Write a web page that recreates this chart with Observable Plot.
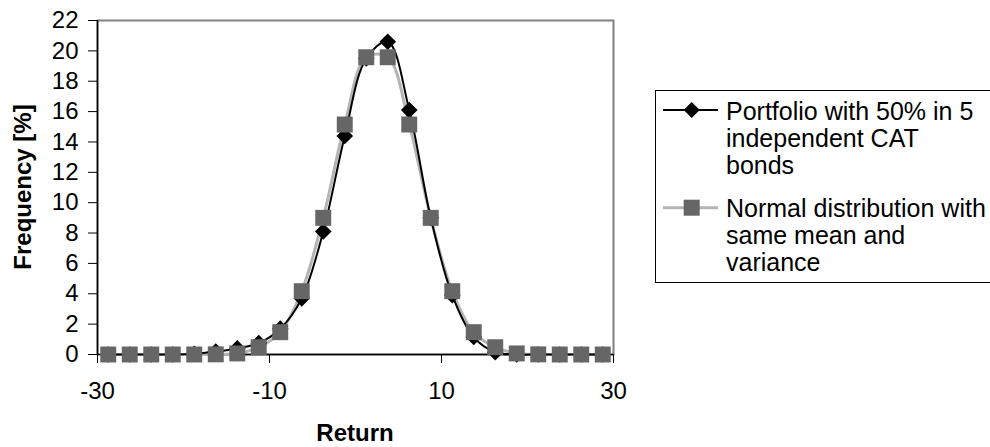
<!DOCTYPE html>
<html>
<head>
<meta charset="utf-8">
<script src="https://cdn.jsdelivr.net/npm/d3@7"></script>
<script src="https://cdn.jsdelivr.net/npm/@observablehq/plot@0.6"></script>
<style>
  html, body { margin: 0; padding: 0; background: #fff; }
  #wrap { position: relative; width: 990px; height: 447px; overflow: hidden; font-family: "Liberation Sans", Arial, sans-serif; color: #000; }
  .lbl { position: absolute; font-weight: bold; font-size: 24px; line-height: 24px; white-space: nowrap; text-align: center; }
  .legtext { position: absolute; left: 726px; font-size: 25px; line-height: 27px; white-space: nowrap; }
</style>
</head>
<body>
<div id="wrap"></div>
<script>
// ---- data ----
const returns = [-28.75, -26.25, -23.75, -21.25, -18.75, -16.25, -13.75, -11.25, -8.75, -6.25, -3.75, -1.25,
                 1.25, 3.75, 6.25, 8.75, 11.25, 13.75, 16.25, 18.75, 21.25, 23.75, 26.25, 28.75];
const portfolio = [0, 0, 0, 0, 0.05, 0.2, 0.4, 0.75, 1.7, 3.7, 8.1, 14.4,
                   19.5, 20.6, 16.1, 9.0, 3.9, 1.15, 0.15, 0, 0, 0, 0, 0];
const normal = [0, 0, 0, 0, 0, 0.01, 0.07, 0.48, 1.47, 4.17, 9.0, 15.15,
                19.58, 19.58, 15.15, 9.0, 4.17, 1.47, 0.48, 0.07, 0.01, 0, 0, 0];
const xTicks = [-30, -10, 10, 30];
const yTicks = [0, 2, 4, 6, 8, 10, 12, 14, 16, 18, 20, 22];
const xTitle = "Return";
const yTitle = "Frequency [%]";
const legendPortfolio = ["Portfolio with 50% in 5", "independent CAT", "bonds"];
const legendNormal = ["Normal distribution with", "same mean and", "variance"];

const rows = returns.map((x, i) => ({x, portfolio: portfolio[i], normal: normal[i]}));
const diamondSym = d3.symbolDiamond2 || d3.symbolDiamond;

const chart = Plot.plot({
  width: 990,
  height: 447,
  marginLeft: 97,
  marginRight: 377,
  marginTop: 20,
  marginBottom: 93,
  style: {fontFamily: '"Liberation Sans", Arial, sans-serif', fontSize: "24px", background: "#fff", color: "#000", overflow: "visible"},
  x: {domain: [-30, 30]},
  y: {domain: [0, 22]},
  marks: [
    Plot.frame({stroke: "#808080", strokeWidth: 2}),
    Plot.ruleX([-30], {stroke: "#000", strokeWidth: 1.5}),
    Plot.ruleY([0], {stroke: "#000", strokeWidth: 1.5}),
    Plot.axisX({ticks: xTicks, tickSize: 9, tickPadding: 18, label: null, fontSize: 24, tickFormat: d => d, stroke: "#000"}),
    Plot.axisY({ticks: yTicks, tickSize: 9, tickPadding: 10, label: null, fontSize: 24, tickFormat: d => d, stroke: "#000"}),
    Plot.line(rows, {x: "x", y: "normal", stroke: "#b4b4b4", strokeWidth: 3, curve: "catmull-rom"}),
    Plot.line(rows, {x: "x", y: "portfolio", stroke: "#000", strokeWidth: 2, curve: "catmull-rom"}),
    Plot.dot(rows, {x: "x", y: "portfolio", symbol: diamondSym, r: 7.5, fill: "#000", stroke: "none"}),
    Plot.dot(rows, {x: "x", y: "normal", symbol: "square", r: 9, fill: "#666", stroke: "none"})
  ]
});

const wrap = document.getElementById("wrap");
chart.style.position = "absolute";
chart.style.left = "0px";
chart.style.top = "0px";
wrap.appendChild(chart);

// axis titles
const xl = document.createElement("div");
xl.className = "lbl";
xl.textContent = xTitle;
xl.style.left = (355 - 100) + "px";
xl.style.width = "200px";
xl.style.top = "421px";
wrap.appendChild(xl);

const yl = document.createElement("div");
yl.className = "lbl";
yl.textContent = yTitle;
yl.style.width = "240px";
yl.style.left = (23.4 - 120) + "px";
yl.style.top = (186.5 - 12) + "px";
yl.style.transform = "rotate(-90deg)";
yl.style.transformOrigin = "50% 50%";
wrap.appendChild(yl);

// legend box
const box = document.createElement("div");
box.style.cssText = "position:absolute;left:655px;top:90px;width:400px;height:193px;border:1px solid #000;box-sizing:border-box;background:#fff;";
wrap.appendChild(box);

const t1 = document.createElement("div");
t1.className = "legtext";
t1.style.top = "98px";
t1.innerHTML = legendPortfolio.join("<br>");
wrap.appendChild(t1);

const t2 = document.createElement("div");
t2.className = "legtext";
t2.style.top = "194.5px";
t2.innerHTML = legendNormal.join("<br>");
wrap.appendChild(t2);

const ns = "http://www.w3.org/2000/svg";
const ls = document.createElementNS(ns, "svg");
ls.setAttribute("width", 990);
ls.setAttribute("height", 447);
ls.style.cssText = "position:absolute;left:0;top:0;pointer-events:none;";
function el(name, attrs) {
  const e = document.createElementNS(ns, name);
  for (const k in attrs) e.setAttribute(k, attrs[k]);
  ls.appendChild(e);
  return e;
}
el("line", {x1: 663, x2: 718, y1: 110, y2: 110, stroke: "#000", "stroke-width": 2});
el("path", {d: "M691.7,102L699.7,110L691.7,118L683.7,110Z", fill: "#000"});
el("line", {x1: 663, x2: 718, y1: 207.7, y2: 207.7, stroke: "#b4b4b4", "stroke-width": 3});
el("rect", {x: 683.7, y: 199.7, width: 16, height: 16, fill: "#666"});
wrap.appendChild(ls);
</script>
</body>
</html>
